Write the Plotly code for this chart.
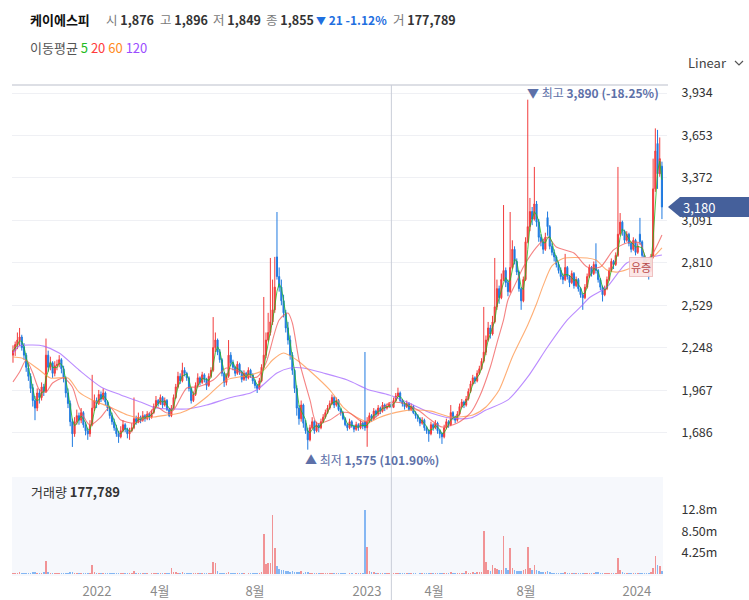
import numpy as np
import pandas as pd
import plotly.graph_objects as go

# ---------------- data (one candle = 2 trading days) ----------------
stock_name = "케이에스피"

opens = [
    2200,2230,2265,2300,2320,2255,2200,2115,2060,1985,
    1900,1850,1950,1920,1990,1960,2200,2120,2150,2080,
    2130,2140,2170,2110,2050,1950,1880,1760,1680,1760,
    1800,1770,1820,1740,1700,1680,1740,1850,1900,1880,
    1940,1910,1950,1890,1850,1800,1760,1720,1680,1660,
    1700,1740,1710,1680,1700,1720,1780,1760,1790,1770,
    1800,1780,1810,1790,1820,1860,1900,1880,1920,1870,
    1900,1840,1800,1850,1920,1990,2060,2030,2100,2080,
    2050,1980,1900,1940,2000,2050,2020,2070,2040,2000,
    2060,2100,2250,2300,2220,2170,2080,2020,2060,2200,
    2150,2120,2080,2140,2090,2040,2080,2050,2100,2070,
    2030,2000,1980,2030,2120,2200,2300,2350,2420,2500,
    2850,2720,2650,2560,2480,2380,2300,2200,2100,1980,
    1850,1780,1870,1750,1700,1640,1720,1760,1700,1740,
    1720,1760,1790,1820,1850,1880,1920,1870,1900,1840,
    1820,1780,1740,1720,1760,1730,1710,1740,1720,1750,
    1760,1720,1760,1800,1780,1830,1810,1850,1830,1870,
    1850,1860,1876,1855,1900,1930,1950,1900,1880,1860,
    1880,1840,1860,1820,1800,1780,1750,1770,1720,1700,
    1680,1740,1720,1750,1700,1680,1660,1720,1760,1740,
    1820,1790,1770,1810,1860,1890,1870,1910,1960,2010,
    2050,2030,2080,2110,2160,2220,2300,2380,2340,2420,
    2520,2640,2580,2700,2760,2680,2620,2780,2900,2820,
    2750,2640,2560,2700,2950,3050,3150,3100,3200,3080,
    2980,2950,2900,3110,3050,2920,2880,2850,2800,2760,
    2720,2700,2780,2720,2680,2740,2660,2700,2640,2600,
    2580,2650,2720,2780,2740,2800,2760,2700,2650,2600,
    2640,2700,2760,2820,2800,2860,3000,3080,3020,2960,
    3000,2940,2900,2960,2880,3000,2950,2860,2800,2780,
    2760,2850,3300,3600,3400,3450,
]
highs = [
    2265,2290,2350,2380,2335,2280,2215,2150,2080,2010,
    1930,1980,1975,2020,2010,2310,2230,2190,2160,2160,
    2170,2200,2180,2130,2060,1980,1900,1780,1790,1840,
    1820,1850,1830,1760,1720,1770,2070,1940,1920,1970,
    1960,1980,1960,1900,1860,1820,1780,1740,1700,1730,
    1770,1750,1720,1720,1750,1920,1800,1820,1800,1830,
    1810,1830,1820,1840,1880,1930,1910,1940,1930,1920,
    1910,1850,1870,1940,2010,2090,2080,2150,2120,2090,
    2060,1990,1960,2020,2080,2060,2090,2080,2050,2080,
    2120,2452,2350,2310,2240,2180,2090,2080,2300,2220,
    2170,2130,2160,2150,2100,2100,2090,2120,2110,2080,
    2040,2010,2050,2140,2585,2350,2480,2843,2700,2850,
    3147,2780,2700,2600,2500,2420,2330,2220,2110,2000,
    1870,1900,1880,1770,1720,1740,1790,1770,1760,1750,
    1780,1810,1840,1870,1900,1940,1930,1920,1910,1850,
    1830,1790,1750,1780,1770,1740,1760,1750,1770,1760,
    2221,1790,1820,1810,1850,1840,1870,1860,1890,1880,
    1880,1890,1896,1920,1950,1985,1960,1910,1890,1900,
    1890,1880,1870,1830,1810,1790,1790,1780,1730,1710,
    1760,1750,1770,1760,1710,1690,1740,1780,1770,1870,
    1830,1800,1830,1880,1910,1900,1930,1980,2030,2070,
    2060,2100,2130,2180,2519,2330,2420,2400,2460,2843,
    2700,2660,2740,3193,2780,2700,3147,2960,2920,2840,
    2760,2650,2720,2980,3890,3240,3180,3445,3220,3100,
    3000,2970,3010,3150,3060,2940,2900,2860,2820,2780,
    2740,2870,2790,2730,2760,2750,2720,2710,2650,2610,
    2670,2740,2800,2790,2820,2940,2770,2710,2660,2660,
    2720,2780,2840,2830,2880,3445,3140,3090,3030,3020,
    3010,2950,2980,2970,2940,3108,2960,2870,2810,2790,
    2870,3500,3700,3690,3640,3480,
]
lows = [
    2150,2195,2240,2260,2230,2170,2090,2030,1950,1860,
    1770,1830,1880,1900,1930,1950,2090,2100,2050,2060,
    2100,2120,2080,2020,1920,1850,1730,1593,1660,1740,
    1740,1750,1720,1670,1640,1660,1730,1830,1850,1870,
    1890,1900,1870,1830,1780,1740,1700,1660,1620,1650,
    1690,1690,1650,1640,1690,1710,1740,1750,1750,1760,
    1760,1770,1770,1780,1810,1850,1860,1870,1850,1860,
    1830,1790,1790,1840,1910,1980,2010,2020,2060,2030,
    1960,1880,1890,1930,1990,2000,2010,2020,1970,1990,
    2050,2090,2220,2200,2150,2060,1990,2000,2050,2130,
    2100,2060,2070,2070,2020,2030,2030,2040,2050,2010,
    1980,1950,1970,2020,2110,2180,2290,2330,2400,2480,
    2700,2620,2530,2450,2350,2270,2170,2070,1950,1800,
    1740,1760,1720,1680,1575,1630,1710,1680,1690,1690,
    1710,1750,1780,1810,1840,1870,1850,1860,1830,1800,
    1770,1730,1700,1710,1720,1690,1700,1700,1710,1710,
    1700,1594,1750,1760,1770,1790,1800,1810,1820,1830,
    1840,1850,1849,1850,1890,1920,1890,1860,1840,1850,
    1830,1830,1810,1780,1760,1730,1740,1700,1680,1627,
    1670,1700,1710,1680,1650,1613,1650,1710,1720,1730,
    1770,1750,1760,1800,1850,1850,1860,1900,1950,2000,
    2010,2020,2070,2100,2150,2200,2290,2310,2330,2410,
    2500,2540,2570,2690,2650,2590,2610,2770,2800,2730,
    2620,2500,2550,2690,2940,3020,3060,3090,3050,2950,
    2920,2870,2890,2990,2900,2860,2820,2780,2740,2700,
    2670,2690,2700,2650,2670,2640,2650,2620,2580,2500,
    2570,2640,2710,2720,2730,2740,2680,2630,2555,2590,
    2630,2690,2750,2770,2790,2850,2990,2990,2940,2950,
    2920,2880,2890,2860,2870,2930,2840,2780,2760,2700,
    2750,2840,3280,3300,3380,3100,
]
closes = [
    2230,2270,2300,2320,2250,2200,2120,2060,1980,1900,
    1850,1950,1920,1990,1960,2200,2120,2150,2080,2130,
    2140,2170,2110,2050,1950,1880,1760,1680,1760,1800,
    1770,1820,1740,1700,1680,1740,1850,1900,1880,1940,
    1910,1950,1890,1850,1800,1760,1720,1680,1660,1700,
    1740,1710,1680,1700,1720,1780,1760,1790,1770,1800,
    1780,1810,1790,1820,1860,1900,1880,1920,1870,1900,
    1840,1800,1850,1920,1990,2060,2030,2100,2080,2050,
    1980,1900,1940,2000,2050,2020,2070,2040,2000,2060,
    2100,2250,2300,2220,2170,2080,2020,2060,2200,2150,
    2120,2080,2140,2090,2040,2080,2050,2100,2070,2030,
    2000,1980,2030,2120,2200,2300,2350,2420,2500,2650,
    2720,2650,2560,2480,2380,2300,2200,2100,1980,1850,
    1780,1870,1750,1700,1640,1720,1760,1700,1740,1720,
    1760,1790,1820,1850,1880,1920,1870,1900,1840,1820,
    1780,1740,1720,1760,1730,1710,1740,1720,1750,1730,
    1720,1760,1800,1780,1830,1810,1850,1830,1870,1850,
    1860,1876,1855,1900,1930,1950,1900,1880,1860,1880,
    1840,1860,1820,1800,1780,1750,1770,1720,1700,1680,
    1740,1720,1750,1700,1680,1660,1720,1760,1740,1820,
    1790,1770,1810,1860,1890,1870,1910,1960,2010,2050,
    2030,2080,2110,2160,2220,2300,2380,2340,2420,2520,
    2640,2580,2700,2760,2680,2620,2780,2900,2820,2750,
    2640,2560,2700,2950,3050,3150,3100,3200,3080,2980,
    2950,2900,2980,3050,2920,2880,2850,2800,2760,2720,
    2700,2780,2720,2680,2740,2660,2700,2640,2600,2580,
    2650,2720,2780,2740,2800,2760,2700,2650,2600,2640,
    2700,2760,2820,2800,2860,3000,3080,3020,2960,3000,
    2940,2900,2960,2880,2920,2950,2860,2800,2780,2760,
    2850,3300,3550,3400,3500,3180,
]
volumes_m = [
    0.3,0.2,0.3,0.4,0.2,0.2,0.3,0.2,0.3,0.4,
    0.5,0.3,0.2,0.3,0.4,2.7,0.5,0.2,0.2,0.3,
    0.2,0.3,0.2,0.2,0.3,0.3,0.4,0.5,0.3,0.2,
    0.2,0.2,0.3,0.2,0.3,0.3,1.9,0.4,0.2,0.3,
    0.3,0.2,0.2,0.2,0.2,0.3,0.2,0.3,0.3,0.2,
    0.2,0.2,0.2,0.3,0.2,0.6,0.3,0.2,0.2,0.2,
    0.2,0.2,0.1,0.2,0.2,0.3,0.2,0.2,0.2,0.2,
    0.2,0.3,1.3,0.5,0.4,0.3,0.3,0.4,0.2,0.2,
    0.2,0.3,0.2,0.2,0.2,0.2,0.2,0.2,0.2,0.2,
    0.3,2.5,2.2,0.6,0.3,0.3,0.2,0.3,0.5,0.3,
    0.2,0.2,0.2,0.2,0.2,0.2,0.1,0.2,0.2,0.2,
    0.2,0.3,0.3,0.5,8.0,2.0,2.2,2.3,11.8,5.2,
    1.7,1.0,0.9,0.8,0.6,0.7,0.5,0.6,0.4,0.5,
    0.4,0.6,0.3,0.4,0.5,0.3,0.3,0.2,0.3,0.2,
    0.2,0.2,0.3,0.2,0.3,0.3,0.2,0.2,0.2,0.2,
    0.2,0.2,0.1,0.2,0.2,0.1,0.2,0.2,0.2,0.2,
    12.8,5.4,0.6,0.5,0.4,0.3,0.3,0.3,0.2,0.2,
    0.2,0.2,0.177789,0.2,0.3,0.3,0.2,0.2,0.2,0.2,
    0.2,0.2,0.2,0.2,0.1,0.2,0.2,0.2,0.2,0.3,
    0.2,0.2,0.2,0.2,0.2,0.3,0.2,0.2,0.2,0.4,
    0.2,0.2,0.2,0.3,0.3,0.2,0.6,0.3,0.3,0.4,
    0.3,0.4,0.4,0.5,8.6,2.5,0.8,0.6,1.9,1.2,
    1.0,0.8,0.9,7.6,1.3,0.8,5.2,1.2,0.8,0.6,
    0.6,0.7,0.8,1.0,5.4,1.2,0.8,1.8,0.9,0.6,
    0.5,0.4,0.4,0.6,0.4,0.3,0.3,0.3,0.3,0.2,
    0.2,0.4,0.3,0.2,0.3,0.2,0.2,0.2,0.2,0.3,
    0.2,0.3,0.3,0.2,0.3,0.4,0.5,0.2,0.3,0.2,
    0.2,0.3,0.3,0.2,0.3,3.3,0.8,0.4,0.3,0.3,
    0.3,0.2,0.2,0.2,0.2,0.3,0.3,0.2,0.2,0.3,
    0.4,1.3,3.6,1.8,1.6,0.6,
]

# moving-average lines (candle index, price)
ma20_idx = [0,3,6,9,12,15,18,23,27,30,35,40,44,49,55,59,65,70,73,79,84,91,97,103,108,111,115,121,125,127,130,135,138,144,149,153,159,165,171,177,184,190,195,202,208,212,217,220,223,225,229,232,238,243,247,255,261,267,273,279,285,288,291,295]
ma20_val = [2023,2089,2168,2082,1970,1956,2016,2049,1990,1857,1738,1791,1857,1771,1751,1771,1857,1818,1837,1983,1990,2036,2115,2089,2056,2056,2148,2433,2479,2413,2168,1904,1751,1771,1818,1818,1758,1791,1884,1884,1837,1771,1725,1751,1818,1923,2122,2280,2433,2565,2690,2783,2915,2982,2915,2876,2783,2783,2896,2942,2942,2829,2876,2995]
ma60_idx = [0,4,12,17,25,30,36,44,52,58,64,70,76,82,88,97,108,114,118,123,129,136,144,150,156,162,166,171,177,182,190,199,209,215,221,227,234,238,241,245,250,261,265,270,275,282,291,295]
ma60_val = [2188,2181,2102,2049,2049,1956,1904,1857,1804,1784,1791,1804,1818,1857,1923,2036,2069,2102,2168,2214,2168,2082,1970,1857,1791,1758,1785,1810,1830,1837,1830,1791,1804,1857,1970,2188,2400,2540,2660,2790,2840,2843,2829,2763,2750,2783,2849,2909]
ma120_idx = [0,3,9,14,21,30,40,49,58,65,73,79,82,88,99,108,112,120,126,132,141,152,162,171,180,190,199,208,215,225,234,243,252,258,262,270,279,288,295]
ma120_val = [2214,2262,2267,2260,2214,2102,1990,1937,1890,1851,1844,1844,1851,1870,1920,1950,1983,2082,2115,2115,2082,2036,1970,1937,1884,1818,1784,1784,1837,1904,2056,2254,2433,2519,2580,2651,2810,2843,2863]

price_ticks = [1686, 1967, 2248, 2529, 2810, 3091, 3372, 3653, 3934]
volume_ticks_m = [4.25, 8.50, 12.75]
volume_tick_text = ["4.25m", "8.50m", "12.8m"]
date_tick_idx = [38.2, 66.8, 110.0, 160.9, 191.4, 233.2, 283.6]
date_tick_text = ["2022", "4월", "8월", "2023", "4월", "8월", "2024"]
cursor_idx = 172
ma_labels = ["5", "20", "60", "120"]

# ---------------- styling / geometry ----------------
W, H = 749, 600
ML, MR, MT, MB = 12, 82, 85, 24
PW, PH = W - ML - MR, H - MT - MB
FONT = "Noto Sans CJK KR, Noto Sans, sans-serif"
UP, DOWN = "#f23c3c", "#1f7ae0"
C_MA = ["#22b922", "#f25a5a", "#ff9448", "#a466ff"]
LBL = "#5d70a8"

def xp(px):
    return (px - ML) / PW

def yp(py):
    return (H - MB - py) / PH

price_dom = [yp(470), 1.0]
vol_dom = [0.0, yp(477)]
price_range = [1440.5, 3987]
vol_range = [-0.3e6, 19.27e6]
x_range = [-0.45, 297.3]

n = len(closes)
idx = np.arange(n)
c_ser = pd.Series(closes, dtype=float)
ma5 = c_ser.rolling(3, min_periods=1).mean()

fig = go.Figure()
fig.add_trace(go.Candlestick(
    x=idx, open=opens, high=highs, low=lows, close=closes,
    increasing=dict(line=dict(color=UP, width=1), fillcolor=UP),
    decreasing=dict(line=dict(color=DOWN, width=1), fillcolor=DOWN),
    whiskerwidth=0, hoverinfo="skip", xaxis="x", yaxis="y", showlegend=False))

for xs, ys, col in [(ma120_idx, ma120_val, C_MA[3]), (ma60_idx, ma60_val, C_MA[2]),
                    (ma20_idx, ma20_val, C_MA[1])]:
    fig.add_trace(go.Scatter(x=xs, y=ys, mode="lines", opacity=0.75,
                             line=dict(color=col, width=1.1, shape="spline", smoothing=0.7),
                             hoverinfo="skip", showlegend=False, xaxis="x", yaxis="y"))
fig.add_trace(go.Scatter(x=idx, y=ma5, mode="lines", opacity=0.8,
                         line=dict(color=C_MA[0], width=1),
                         hoverinfo="skip", showlegend=False, xaxis="x", yaxis="y"))

vol_colors = ["rgba(238,80,80,0.6)" if c >= o else "rgba(40,130,235,0.55)"
              for o, c in zip(opens, closes)]
fig.add_trace(go.Bar(x=idx, y=np.array(volumes_m) * 1e6, marker=dict(color=vol_colors, line=dict(width=0)),
                     width=0.75, hoverinfo="skip", showlegend=False, xaxis="x2", yaxis="y2"))

axis_font = dict(family=FONT, size=12.5, color="#333")
fig.update_layout(
    width=W, height=H, margin=dict(l=ML, r=MR, t=MT, b=MB, autoexpand=False),
    paper_bgcolor="white", plot_bgcolor="white", showlegend=False,
    font=dict(family=FONT),
    bargap=0,
    xaxis=dict(domain=[0, 1], range=x_range, anchor="y", showticklabels=False, showgrid=False,
               zeroline=False, showline=False, rangeslider=dict(visible=False), automargin=False),
    xaxis2=dict(domain=[0, 1], range=x_range, anchor="y2", tickvals=date_tick_idx, ticktext=date_tick_text,
                showgrid=False, zeroline=False, showline=False, automargin=False,
                ticks="outside", ticklen=3, tickcolor="rgba(0,0,0,0)",
                tickfont=dict(family=FONT, size=13, color="#8a8a8a")),
    yaxis=dict(domain=price_dom, range=price_range, side="right", anchor="x", tickvals=price_ticks,
               tickformat=",", showgrid=True, gridcolor="#eff0f4", gridwidth=1, zeroline=False,
               automargin=False,
               ticks="outside", ticklen=11, tickcolor="rgba(0,0,0,0)", tickfont=axis_font),
    yaxis2=dict(domain=vol_dom, range=vol_range, side="right", anchor="x2",
                tickvals=[v * 1e6 for v in volume_ticks_m], ticktext=volume_tick_text,
                showgrid=False, zeroline=False, ticks="outside", ticklen=11, automargin=False,
                tickcolor="rgba(0,0,0,0)", tickfont=axis_font),
)

shapes = []
# volume panel background
shapes.append(dict(type="rect", xref="paper", yref="paper", x0=0, x1=xp(663), y0=vol_dom[0], y1=vol_dom[1],
                   fillcolor="#f6f8fc", line=dict(width=0), layer="below"))
# top border
shapes.append(dict(type="line", xref="paper", yref="paper", x0=0, x1=xp(668), y0=1, y1=1,
                   line=dict(color="#d2d5dc", width=1.3)))
# crosshair
shapes.append(dict(type="line", xref="x", yref="paper", x0=cursor_idx, x1=cursor_idx, y0=yp(600), y1=1,
                   line=dict(color="#c9ced8", width=1)))
# last price tag
last = closes[-1]
unit = (price_range[1] - price_range[0]) / (470 - 85)
hh = 10 * unit
path = (f"M {xp(668)},{last} L {xp(680)},{last + hh} L {xp(749)},{last + hh} "
        f"L {xp(749)},{last - hh} L {xp(680)},{last - hh} Z")
shapes.append(dict(type="path", xref="paper", yref="y", path=path, fillcolor="#45609b",
                   line=dict(width=0), layer="above"))
# Linear chevron
shapes.append(dict(type="path", xref="paper", yref="paper",
                   path=f"M {xp(735)},{yp(61)} L {xp(739)},{yp(65)} L {xp(743)},{yp(61)}",
                   line=dict(color="#555", width=1.2)))
fig.update_layout(shapes=shapes)

ann = []
def add(px_, py_, text, size=13, color="#333", xanchor="left"):
    ann.append(dict(xref="paper", yref="paper", x=xp(px_), y=yp(py_), text=text, showarrow=False,
                    xanchor=xanchor, yanchor="middle", font=dict(family=FONT, size=size, color=color)))

o, h, l, c = opens[cursor_idx], highs[cursor_idx], lows[cursor_idx], closes[cursor_idx]
prev = closes[cursor_idx - 1]
chg = c - prev
pct = chg / prev * 100
arrow = "▼" if chg < 0 else "▲"
chg_col = "#1f6fe0" if chg < 0 else "#e83535"
vol_c = int(round(volumes_m[cursor_idx] * 1e6))
GRAY = "#7a7a7a"
HS = 12.5
add(28, 19, f"<b>{stock_name}</b>", 13, "#111")
add(104, 19, f"<span style='color:{GRAY}'>시</span> <b>{o:,}</b>", HS, "#333")
add(158, 19, f"<span style='color:{GRAY}'>고</span> <b>{h:,}</b>", HS, "#333")
add(211, 19, f"<span style='color:{GRAY}'>저</span> <b>{l:,}</b>", HS, "#333")
add(264, 19, f"<span style='color:{GRAY}'>종</span> <b>{c:,}</b>", HS, "#333")
add(314, 19, f"<span style='font-size:10px'>{arrow}</span> <b>{abs(chg)}</b> <b>{pct:.2f}%</b>", 12, chg_col)
add(391, 19, f"<span style='color:{GRAY}'>거</span> <b>{vol_c:,}</b>", HS, "#333")
ma_txt = "이동평균 " + " ".join(f"<span style='color:{col}'>{lab}</span>"
                              for lab, col in zip(ma_labels, ["#22bb22", "#ff3b3b", "#ff8a22", "#9b4dff"]))
add(28, 47, ma_txt, 13, "#555")
add(729, 63, "Linear", 13, "#444", xanchor="right")
add(29, 491, f"거래량 <b>{vol_c:,}</b>", 13, "#333")
fig.update_layout(annotations=ann)

# max / min labels
i_max = int(np.argmax(highs)); h_max = highs[i_max]
i_min = int(np.argmin(lows)); l_min = lows[i_min]
fig.add_annotation(xref="x", yref="y", x=i_max - 1.3, y=h_max + 50, xanchor="left", yanchor="middle",
                   showarrow=False, text=f"▼ 최고 <b>{h_max:,} ({(last / h_max - 1) * 100:.2f}%)</b>",
                   font=dict(family=FONT, size=12, color=LBL))
fig.add_annotation(xref="x", yref="y", x=i_min - 2.2, y=l_min - 68, xanchor="left", yanchor="middle",
                   showarrow=False, text=f"▲ 최저 <b>{l_min:,} ({(last / l_min - 1) * 100:.2f}%)</b>",
                   font=dict(family=FONT, size=12, color=LBL))
# last price tag text
fig.add_annotation(xref="paper", yref="y", x=xp(681), y=last, xanchor="left", yanchor="middle",
                   showarrow=False, text=f"{last:,}", font=dict(family=FONT, size=13, color="white"))
# 유증 event badge
fig.add_annotation(xref="paper", yref="paper", x=xp(641), y=yp(267), xanchor="center", yanchor="middle",
                   showarrow=False, text="유증",
                   font=dict(family=FONT, size=11, color="#b94a4a"), bgcolor="rgba(252,228,228,0.92)",
                   bordercolor="rgba(236,180,180,0.8)", borderwidth=1, borderpad=1)

fig.write_html("out.html", config={"displayModeBar": False},
               post_script="document.body.style.margin='0';document.body.style.overflow='hidden';")
